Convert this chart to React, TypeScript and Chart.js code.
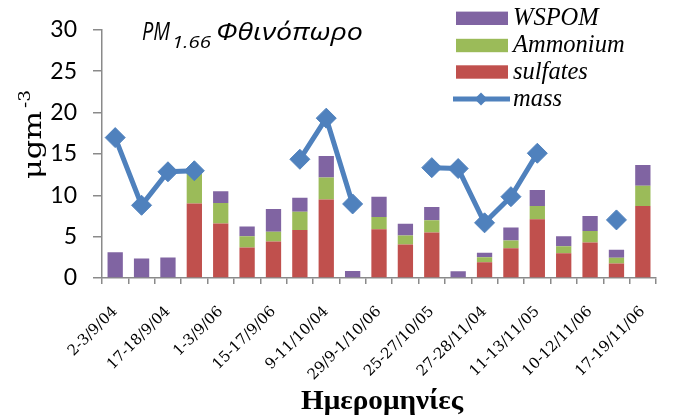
import React, { useEffect, useRef } from "react";
import { Chart, registerables } from "chart.js";

Chart.register(...registerables);

// ---- data ----
const categories: string[] = [
  "2-3/9/04", "", "17-18/9/04", "", "1-3/9/06", "", "15-17/9/06", "",
  "9-11/10/04", "", "29/9-1/10/06", "", "25-27/10/05", "", "27-28/11/04", "",
  "11-13/11/05", "", "10-12/11/06", "", "17-19/11/06",
];
const sulfates: number[] = [
  0, 0, 0, 9.0, 6.6, 3.7, 4.4, 5.8, 9.5, 0, 5.9, 4.05, 5.5, 0, 1.9, 3.6, 7.1, 3.0, 4.3, 1.75, 8.7,
];
const ammonium: number[] = [
  0, 0, 0, 3.8, 2.47, 1.35, 1.19, 2.2, 2.66, 0, 1.47, 1.08, 1.47, 0, 0.62, 0.92, 1.59, 0.85, 1.39, 0.69, 2.46,
];
const wspom: number[] = [
  3.1, 2.35, 2.47, 0, 1.43, 1.16, 2.74, 1.7, 2.58, 0.85, 2.46, 1.43, 1.62, 0.81, 0.54, 1.58, 1.96, 1.19, 1.81, 0.96, 2.51,
];
const mass: (number | null)[] = [
  16.97, 8.79, 12.84, 12.96, null, null, null, 14.35, 19.32, 8.95, null, null, 13.34, 13.23, 6.67, 9.83, 15.08, null, null, 7.02, null,
];
const yTicks: number[] = [0, 5, 10, 15, 20, 25, 30];

const PURPLE = "#8064A2";
const GREEN = "#9BBB59";
const RED = "#C0504D";
const BLUE = "#4F81BD";
const AXIS = "#8a8a8a";

function fitText(ctx: CanvasRenderingContext2D, text: string, x: number, y: number, font: string, width?: number) {
  ctx.save();
  ctx.font = font;
  ctx.textAlign = "left";
  ctx.textBaseline = "alphabetic";
  const w = ctx.measureText(text).width;
  ctx.translate(x, y);
  if (width) ctx.scale(width / w, 1);
  ctx.fillText(text, 0, 0);
  ctx.restore();
}

const decor = {
  id: "decor",
  afterDraw(chart: any) {
    const ctx: CanvasRenderingContext2D = chart.ctx;
    ctx.save();
    ctx.fillStyle = "#000";
    // title
    fitText(ctx, "PM", 142, 40, 'italic 26px "Open Sans"', 28);
    fitText(ctx, "1.66", 172, 48, 'italic 17px "Open Sans"', 39);
    fitText(ctx, "Φθινόπωρο", 216, 40, 'italic 23px "Open Sans"', 147);

    // y title
    ctx.save();
    ctx.translate(41, 179);
    ctx.rotate(-Math.PI / 2);
    fitText(ctx, "μgm", 0, 0, '25px "DejaVu Serif"', 68);
    fitText(ctx, "-3", 71, -11, '16px "DejaVu Serif"', 18);
    ctx.restore();

    // x title
    fitText(ctx, "Ημερομηνίες", 301, 409, 'bold 27px "Liberation Serif"', 162);

    // legend
    const ds = chart.data.datasets;
    const rows = [
      { d: ds[3], cy: 18.3, base: 25 },
      { d: ds[2], cy: 45.5, base: 52 },
      { d: ds[1], cy: 72, base: 79 },
      { d: ds[0], cy: 99, base: 106 },
    ];
    rows.forEach((r) => {
      if (r.d.type === "line") {
        ctx.strokeStyle = r.d.borderColor;
        ctx.lineWidth = 5;
        ctx.beginPath();
        ctx.moveTo(453, r.cy);
        ctx.lineTo(510, r.cy);
        ctx.stroke();
        ctx.fillStyle = r.d.pointBackgroundColor;
        const rr = 6.5;
        ctx.beginPath();
        ctx.moveTo(481 - rr, r.cy);
        ctx.lineTo(481, r.cy - rr);
        ctx.lineTo(481 + rr, r.cy);
        ctx.lineTo(481, r.cy + rr);
        ctx.closePath();
        ctx.fill();
      } else {
        ctx.fillStyle = r.d.backgroundColor;
        ctx.fillRect(456, r.cy - 6.7, 52, 13.4);
      }
      ctx.fillStyle = "#000";
      fitText(ctx, r.d.label, 513, r.base, 'italic 24.5px "Liberation Serif"');
    });
    ctx.restore();
  },
};

export default function App() {
  const ref = useRef<HTMLCanvasElement | null>(null);
  useEffect(() => {
    if (!ref.current) return;
    const chart = new Chart(ref.current, {
      type: "bar",
      data: {
        labels: categories,
        datasets: [
          {
            type: "line",
            label: "mass",
            data: mass,
            borderColor: BLUE,
            backgroundColor: BLUE,
            borderWidth: 5,
            pointStyle: "rectRot",
            pointRadius: 10,
            pointBorderWidth: 1,
            pointBackgroundColor: BLUE,
            pointBorderColor: BLUE,
            spanGaps: false,
            tension: 0,
            stack: "mass",
            order: 0,
          } as any,
          { type: "bar", label: "sulfates", data: sulfates, backgroundColor: RED, stack: "s", order: 1 },
          { type: "bar", label: "Ammonium", data: ammonium, backgroundColor: GREEN, stack: "s", order: 1 },
          { type: "bar", label: "WSPOM", data: wspom, backgroundColor: PURPLE, stack: "s", order: 1 },
        ],
      },
      options: {
        responsive: false,
        devicePixelRatio: 1,
        animation: false,
        layout: { padding: { left: 0, right: 18, top: 18, bottom: 0 } },
        datasets: { bar: { categoryPercentage: 1, barPercentage: 0.58 } },
        plugins: { legend: { display: false }, tooltip: { enabled: false }, title: { display: false } },
        scales: {
          x: {
            stacked: true,
            offset: true,
            grid: { display: true, drawOnChartArea: false, drawTicks: true, tickLength: 6, color: AXIS, offset: true, lineWidth: 1.5 },
            border: { display: true, color: AXIS, width: 1.5 },
            ticks: {
              autoSkip: false,
              minRotation: 45,
              maxRotation: 45,
              padding: 19,
              color: "#000",
              font: { family: '"DejaVu Serif"', size: 15 },
            },
            afterFit: (s: any) => { s.height = 141; },
          },
          y: {
            stacked: true,
            min: 0,
            max: 30,
            afterBuildTicks: (s: any) => { s.ticks = yTicks.map((v) => ({ value: v })); },
            grid: { display: true, drawOnChartArea: false, drawTicks: true, tickLength: 9, color: AXIS, lineWidth: 1.5 },
            border: { display: true, color: AXIS, width: 1.5 },
            ticks: {
              padding: 16,
              color: "#000",
              font: { family: "Lato", size: 23 },
            },
            afterFit: (s: any) => { s.width = 102; },
          },
        },
      },
      plugins: [decor],
    });
    return () => chart.destroy();
  }, []);
  return (
    <div style={{ position: "absolute", left: 0, top: 0, width: 675, height: 419, background: "#fff" }}>
      <canvas ref={ref} width={675} height={419} style={{ display: "block" }} />
    </div>
  );
}
